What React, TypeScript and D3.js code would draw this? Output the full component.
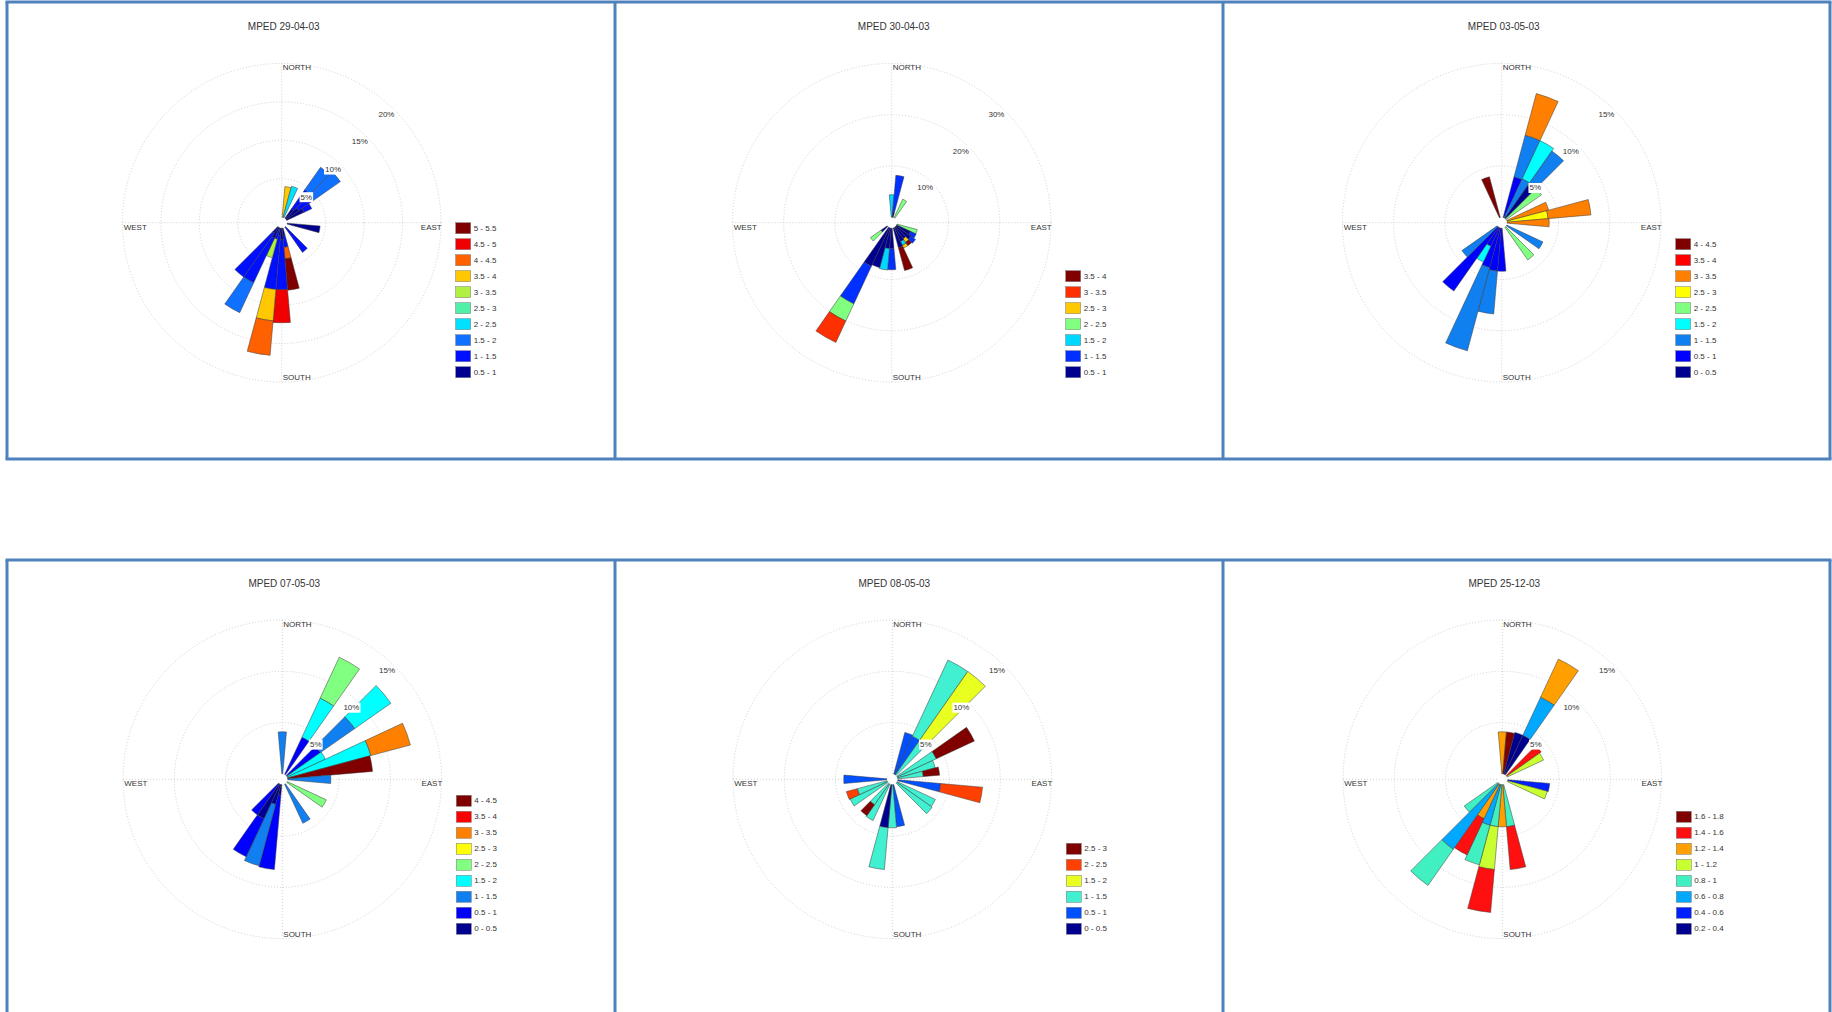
import React from "react";
import * as d3 from "d3";

// ---------- titles ----------
const titles = [
  "MPED 29-04-03",
  "MPED 30-04-03",
  "MPED 03-05-03",
  "MPED 07-05-03",
  "MPED 08-05-03",
  "MPED 25-12-03",
];

// ---------- panel 1 : MPED 29-04-03 ----------
const p1Classes = ["0.5 - 1", "1 - 1.5", "1.5 - 2", "2 - 2.5", "2.5 - 3", "3 - 3.5", "3.5 - 4", "4 - 4.5", "4.5 - 5", "5 - 5.5"];
const p1Colors = ["#000090", "#0010FF", "#1070FF", "#00E0FF", "#50F0A8", "#B0F040", "#FFC800", "#FF6000", "#F00000", "#800000"];
const p1Ticks = [5, 10, 15, 20];
const p1Dirs = [10, 20, 40, 50, 60, 100, 140, 170, 180, 190, 200, 210, 220];
const p1Freq = [
  [0, 0, 0, 0, 0, 0, 4.0, 0, 0, 0],
  [0, 0, 0, 4.2, 0, 0, 0, 0, 0, 0],
  [1.5, 3.0, 3.6, 0, 0, 0, 0, 0, 0, 0],
  [2.0, 2.2, 4.4, 0, 0, 0, 0, 0, 0, 0],
  [2.5, 1.1, 0, 0, 0, 0, 0, 0, 0, 0],
  [4.3, 0, 0, 0, 0, 0, 0, 0, 0, 0],
  [0, 4.0, 0, 0, 0, 0, 0, 0, 0, 0],
  [1.0, 1.5, 0, 0, 0, 0, 0, 1.5, 0, 4.1],
  [1.5, 6.5, 0, 0, 0, 0, 0, 0, 4.3, 0],
  [1.0, 7.0, 0, 0, 0, 0, 4.1, 4.5, 0, 0],
  [0, 1.5, 0, 0, 0, 2.5, 0, 0, 0, 0],
  [1.5, 6.4, 4.3, 0, 0, 0, 0, 0, 0, 0],
  [1.0, 6.9, 0, 0, 0, 0, 0, 0, 0, 0],
];

// ---------- panel 2 : MPED 30-04-03 ----------
const p2Classes = ["0.5 - 1", "1 - 1.5", "1.5 - 2", "2 - 2.5", "2.5 - 3", "3 - 3.5", "3.5 - 4"];
const p2Colors = ["#000090", "#0030FF", "#00D8FF", "#80FF80", "#FFC800", "#FF3000", "#800000"];
const p2Ticks = [10, 20, 30];
const p2Dirs = [0, 10, 30, 110, 120, 130, 140, 150, 160, 180, 190, 200, 210, 230];
const p2Freq = [
  [0, 0, 4.4, 0, 0, 0, 0],
  [1.0, 7.2, 0, 0, 0, 0, 0],
  [0, 0, 0, 4.0, 0, 0, 0],
  [0, 0, 0, 4.1, 0, 0, 0],
  [3.0, 1.2, 0, 0, 0, 0, 0],
  [3.5, 1.1, 0, 0, 0, 0, 0],
  [2.8, 0, 0, 0, 0.8, 0, 0.8],
  [3.0, 0, 0.8, 0, 0.6, 0, 0],
  [4.0, 0, 0, 0, 0, 0, 4.6],
  [4.0, 4.1, 0, 0, 0, 0, 0],
  [4.0, 0, 4.2, 0, 0, 0, 0],
  [8.0, 0, 0, 0, 0, 0, 0],
  [8.3, 8.1, 0, 3.7, 0, 4.6, 0],
  [1.5, 0, 0, 2.5, 0, 0, 0],
];

// ---------- panel 3 : MPED 03-05-03 ----------
const p3Classes = ["0 - 0.5", "0.5 - 1", "1 - 1.5", "1.5 - 2", "2 - 2.5", "2.5 - 3", "3 - 3.5", "3.5 - 4", "4 - 4.5"];
const p3Colors = ["#000090", "#0000FF", "#1080F0", "#00FFFF", "#80FF80", "#FFFF00", "#FF8000", "#FF0000", "#800000"];
const p3Ticks = [5, 10, 15];
const p3Dirs = [20, 30, 40, 50, 70, 80, 90, 120, 140, 180, 190, 200, 210, 220, 230, 340];
const p3Freq = [
  [0, 4.1, 4.2, 0, 0, 0, 4.2, 0, 0],
  [0, 0, 4.2, 4.1, 0, 0, 0, 0, 0],
  [3.9, 0, 4.1, 0, 0, 0, 0, 0, 0],
  [0, 0, 0, 0, 4.2, 0, 0, 0, 0],
  [0, 0, 0, 0, 0, 0, 4.2, 0, 0],
  [0, 0, 0, 0, 0, 4.0, 4.2, 0, 0],
  [0, 0, 0, 0, 0, 0, 4.1, 0, 0],
  [0, 0, 3.9, 0, 0, 0, 0, 0, 0],
  [0, 0, 0, 0, 3.9, 0, 0, 0, 0],
  [0, 4.2, 0, 0, 0, 0, 0, 0, 0],
  [0, 4.2, 4.2, 0, 0, 0, 0, 0, 0],
  [0, 4.0, 8.4, 0, 0, 0, 0, 0, 0],
  [0, 2.0, 0, 1.7, 0, 0, 0, 0, 0],
  [0, 7.6, 0, 0, 0, 0, 0, 0, 0],
  [0, 0, 4.2, 0, 0, 0, 0, 0, 0],
  [0, 0, 0, 0, 0, 0, 0, 0, 4.1],
];

// ---------- panel 4 : MPED 07-05-03 ----------
const p4Classes = ["0 - 0.5", "0.5 - 1", "1 - 1.5", "1.5 - 2", "2 - 2.5", "2.5 - 3", "3 - 3.5", "3.5 - 4", "4 - 4.5"];
const p4Colors = ["#000090", "#0000FF", "#1080F0", "#00FFFF", "#80FF80", "#FFFF00", "#FF8000", "#FF0000", "#800000"];
const p4Ticks = [5, 10, 15];
const p4Dirs = [0, 30, 50, 60, 70, 80, 90, 120, 150, 190, 200, 210, 220];
const p4Freq = [
  [0, 0, 4.1, 0, 0, 0, 0, 0, 0],
  [0, 4.0, 0, 4.2, 4.4, 0, 0, 0, 0],
  [0, 4.0, 4.1, 4.3, 0, 0, 0, 0, 0],
  [0, 0, 0, 4.1, 0, 0, 0, 0, 0],
  [0, 0, 0, 8.4, 0, 0, 4.0, 0, 0],
  [0, 0, 0, 0, 0, 0, 0, 0, 8.3],
  [0, 0, 4.2, 0, 0, 0, 0, 0, 0],
  [0, 0, 0, 0, 4.2, 0, 0, 0, 0],
  [0, 0, 4.2, 0, 0, 0, 0, 0, 0],
  [1.0, 7.3, 0, 0, 0, 0, 0, 0, 0],
  [2.0, 0, 6.2, 0, 0, 0, 0, 0, 0],
  [3.7, 4.1, 0, 0, 0, 0, 0, 0, 0],
  [0, 3.7, 0, 0, 0, 0, 0, 0, 0],
];

// ---------- panel 5 : MPED 08-05-03 ----------
const p5Classes = ["0 - 0.5", "0.5 - 1", "1 - 1.5", "1.5 - 2", "2 - 2.5", "2.5 - 3"];
const p5Colors = ["#000090", "#0050FF", "#40F0D0", "#E8FF20", "#FF4000", "#800000"];
const p5Ticks = [5, 10, 15];
const p5Dirs = [20, 30, 40, 60, 70, 80, 100, 120, 130, 170, 180, 190, 210, 220, 240, 250, 270];
const p5Freq = [
  [0, 4.2, 0, 0, 0, 0],
  [0, 4.1, 8.2, 0, 0, 0],
  [0, 0, 4.2, 8.1, 0, 0],
  [0, 0, 4.2, 0, 0, 4.1],
  [0, 0, 3.8, 0, 0, 0],
  [0, 0, 2.5, 0, 0, 1.6],
  [0, 4.2, 0, 0, 4.1, 0],
  [0, 0, 4.1, 0, 0, 0],
  [0, 0, 4.2, 0, 0, 0],
  [0, 4.1, 0, 0, 0, 0],
  [0, 0, 4.2, 0, 0, 0],
  [4.2, 0, 4.1, 0, 0, 0],
  [0, 0, 3.9, 0, 0, 0],
  [0, 0, 2.5, 0, 0, 1.3],
  [0, 0, 4.0, 0, 0, 0],
  [0, 0, 3.0, 0, 1.1, 0],
  [0, 4.2, 0, 0, 0, 0],
];

// ---------- panel 6 : MPED 25-12-03 ----------
const p6Classes = ["0.2 - 0.4", "0.4 - 0.6", "0.6 - 0.8", "0.8 - 1", "1 - 1.2", "1.2 - 1.4", "1.4 - 1.6", "1.6 - 1.8"];
const p6Colors = ["#000090", "#0020FF", "#00A8FF", "#40F0C0", "#C8FF30", "#FFA000", "#FF1010", "#800000"];
const p6Ticks = [5, 10, 15];
const p6Dirs = [0, 10, 20, 30, 50, 60, 100, 110, 170, 180, 190, 200, 210, 220, 230];
const p6Freq = [
  [0, 0, 0, 0, 0, 4.1, 0, 0],
  [0, 0, 0, 0, 0, 0, 0, 4.1],
  [4.2, 0, 0, 0, 0, 0, 0, 0],
  [4.2, 0, 4.1, 0, 0, 4.1, 0, 0],
  [0, 0, 0, 0, 0, 0, 4.1, 0],
  [0, 0, 0, 0, 3.9, 0, 0, 0],
  [0, 4.1, 0, 0, 0, 0, 0, 0],
  [0, 0, 0, 0, 4.0, 0, 0, 0],
  [0, 0, 0, 4.1, 0, 0, 4.2, 0],
  [0, 0, 0, 0, 0, 4.1, 0, 0],
  [0, 0, 0, 4.1, 4.2, 0, 4.2, 0],
  [0, 0, 4.1, 4.0, 0, 0, 0, 0],
  [0, 0, 0, 0, 0, 3.7, 3.9, 0],
  [0, 0, 7.8, 4.3, 0, 0, 0, 0],
  [0, 0, 0, 4.0, 0, 0, 0, 0],
];

const FONT = "'Liberation Sans', Arial, Helvetica, sans-serif";
const TXT = "#333333";

type RoseProps = {
  cx: number;
  cy: number;
  title: string;
  classes: string[];
  colors: string[];
  ticks: number[];
  dirs: number[];
  freq: number[][];
};

function textWidth(s: string, size: number) {
  let w = 0;
  for (const ch of s) {
    if (ch === "%") w += 0.889;
    else if (ch === ".") w += 0.278;
    else w += 0.556;
  }
  return w * size;
}

function Rose({ cx, cy, title, classes, colors, ticks, dirs, freq }: RoseProps) {
  const R = 159.3;
  const r0 = 5.5;
  const rmax = ticks[ticks.length - 1];
  const r = d3.scaleLinear().domain([0, rmax]).range([r0, R]);
  const arc = d3.arc<any>();
  const toRad = (deg: number) => (deg * Math.PI) / 180;

  const segs: React.ReactNode[] = [];
  dirs.forEach((d, i) => {
    let cum = 0;
    freq[i].forEach((v, k) => {
      if (v <= 0) return;
      const path = arc({
        innerRadius: r(cum),
        outerRadius: r(cum + v),
        startAngle: toRad(d - 5),
        endAngle: toRad(d + 5),
      });
      segs.push(
        <path key={`${i}-${k}`} d={path || ""} fill={colors[k]} stroke="#3a3a3a" strokeWidth={0.5} />
      );
      cum += v;
    });
  });

  const labAng = toRad(44);
  const grid = "#c4c4c4";

  return (
    <g>
      <text x={cx + 2} y={cy - 196} textAnchor="middle" dominantBaseline="central" fontSize={10} fill={TXT} fontFamily={FONT}>
        {title}
      </text>
      <g transform={`translate(${cx},${cy})`}>
        {ticks.map((t) => (
          <circle key={t} r={r(t)} fill="none" stroke={grid} strokeWidth={0.8} strokeDasharray="1,2" />
        ))}
        <line x1={-R} x2={R} y1={0} y2={0} stroke={grid} strokeWidth={0.8} strokeDasharray="1,2" />
        <line x1={0} x2={0} y1={-R} y2={R} stroke={grid} strokeWidth={0.8} strokeDasharray="1,2" />
        <circle r={r0 - 0.5} fill="#ffffff" />
        {segs}
        {ticks.map((t) => {
          const rr = r(t) - 8.5;
          const x = rr * Math.sin(labAng);
          const y = -rr * Math.cos(labAng);
          const s = `${t}%`;
          const w = textWidth(s, 8) + 2;
          return (
            <g key={`l${t}`}>
              <rect x={x - w / 2} y={y - 5} width={w} height={10} fill="#ffffff" />
              <text x={x} y={y} textAnchor="middle" dominantBaseline="central" fontSize={8} fill={TXT} fontFamily={FONT}>
                {s}
              </text>
            </g>
          );
        })}
        <text x={1} y={-155} dominantBaseline="central" fontSize={8} fill={TXT} fontFamily={FONT}>NORTH</text>
        <text x={1} y={155} dominantBaseline="central" fontSize={8} fill={TXT} fontFamily={FONT}>SOUTH</text>
        <text x={160} y={4.7} textAnchor="end" dominantBaseline="central" fontSize={8} fill={TXT} fontFamily={FONT}>EAST</text>
        <text x={-158} y={4.7} dominantBaseline="central" fontSize={8} fill={TXT} fontFamily={FONT}>WEST</text>
        {classes.map((c, k) => {
          const yc = 149.5 - k * 16;
          return (
            <g key={`lg${k}`}>
              <rect x={174} y={yc - 5.5} width={15} height={11} fill={colors[k]} stroke="#777" strokeWidth={0.5} />
              <text x={192} y={yc} dominantBaseline="central" fontSize={8} fill={TXT} fontFamily={FONT}>
                {c}
              </text>
            </g>
          );
        })}
      </g>
    </g>
  );
}

export default function App() {
  const panels = [
    { classes: p1Classes, colors: p1Colors, ticks: p1Ticks, dirs: p1Dirs, freq: p1Freq },
    { classes: p2Classes, colors: p2Colors, ticks: p2Ticks, dirs: p2Dirs, freq: p2Freq },
    { classes: p3Classes, colors: p3Colors, ticks: p3Ticks, dirs: p3Dirs, freq: p3Freq },
    { classes: p4Classes, colors: p4Colors, ticks: p4Ticks, dirs: p4Dirs, freq: p4Freq },
    { classes: p5Classes, colors: p5Colors, ticks: p5Ticks, dirs: p5Dirs, freq: p5Freq },
    { classes: p6Classes, colors: p6Colors, ticks: p6Ticks, dirs: p6Dirs, freq: p6Freq },
  ];
  const centers = [
    [281.7, 222.7],
    [891.7, 222.7],
    [1501.7, 222.7],
    [282.3, 779.3],
    [892.3, 779.3],
    [1502.3, 779.3],
  ];
  const border = "#4F81BD";
  const xs = [7, 615, 1223, 1830];
  return (
    <svg
      width={1832}
      height={1012}
      style={{ position: "absolute", left: 0, top: 0, background: "#ffffff" }}
    >
      <rect x={0} y={0} width={1832} height={1012} fill="#ffffff" />
      {/* table borders */}
      <line x1={xs[0] - 1.5} x2={xs[3] + 1.5} y1={2} y2={2} stroke={border} strokeWidth={3} />
      <line x1={xs[0] - 1.5} x2={xs[3] + 1.5} y1={459} y2={459} stroke={border} strokeWidth={3} />
      <line x1={xs[0] - 1.5} x2={xs[3] + 1.5} y1={560} y2={560} stroke={border} strokeWidth={3} />
      {xs.map((x) => (
        <g key={x}>
          <line x1={x} x2={x} y1={2} y2={459} stroke={border} strokeWidth={3} />
          <line x1={x} x2={x} y1={560} y2={1014} stroke={border} strokeWidth={3} />
        </g>
      ))}
      {panels.map((p, i) => (
        <Rose key={i} cx={centers[i][0]} cy={centers[i][1]} title={titles[i]} {...p} />
      ))}
    </svg>
  );
}
